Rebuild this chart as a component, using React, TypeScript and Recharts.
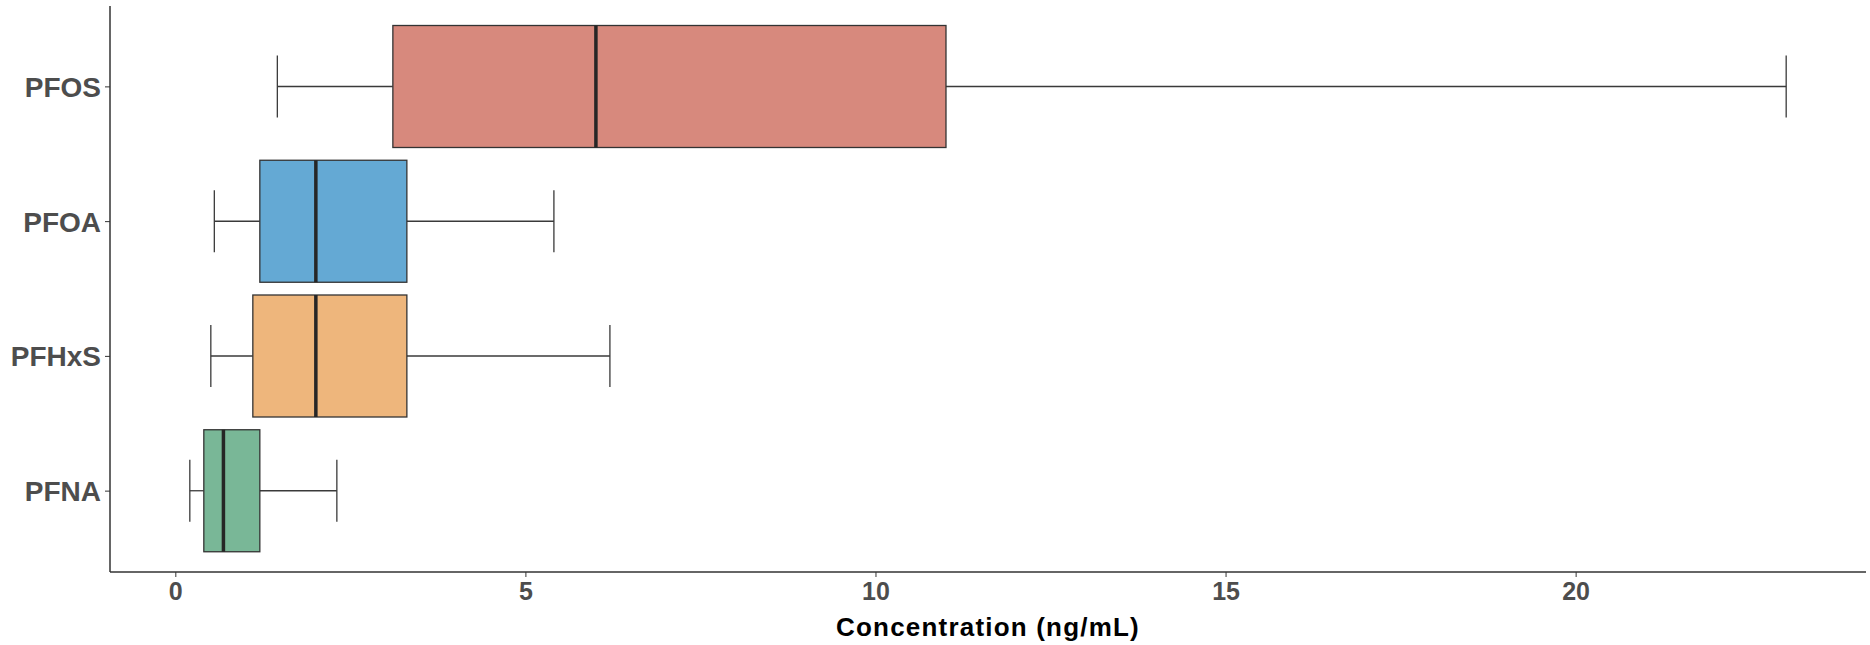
import { ComposedChart, Bar, XAxis, YAxis } from 'recharts';

const categories = ['PFOS', 'PFOA', 'PFHxS', 'PFNA'];
const whiskerLow = [1.45, 0.55, 0.5, 0.2];
const q1 = [3.1, 1.2, 1.1, 0.4];
const median = [6.0, 2.0, 2.0, 0.68];
const q3 = [11.0, 3.3, 3.3, 1.2];
const whiskerHigh = [23.0, 5.4, 6.2, 2.3];
const fills = ['#D7897D', '#64A9D4', '#EEB67C', '#79B797'];
const xTicks = [0, 5, 10, 15, 20];

const data = categories.map((name, i) => ({
  name,
  lo: whiskerLow[i],
  q1: q1[i],
  med: median[i],
  q3: q3[i],
  hi: whiskerHigh[i],
  fill: fills[i],
}));

const FONT = '"Liberation Sans", Arial, sans-serif';

// One box-and-whisker glyph; the bar spans lo..hi, inner stats are placed on the same scale.
function BoxShape(props: any) {
  const { x, y, width, height, payload } = props;
  const { lo, hi } = payload;
  const px = (v: number) => x + ((v - lo) / (hi - lo)) * width;
  const cy = y + height / 2;
  const cap = height * 0.255;
  const bx1 = px(payload.q1);
  const bx2 = px(payload.q3);
  const mx = px(payload.med);
  return (
    <g>
      <line x1={px(lo)} x2={bx1} y1={cy} y2={cy} stroke="#3a3a3a" strokeWidth={1.3} />
      <line x1={bx2} x2={px(hi)} y1={cy} y2={cy} stroke="#3a3a3a" strokeWidth={1.3} />
      <line x1={px(lo)} x2={px(lo)} y1={cy - cap} y2={cy + cap} stroke="#3a3a3a" strokeWidth={1.3} />
      <line x1={px(hi)} x2={px(hi)} y1={cy - cap} y2={cy + cap} stroke="#3a3a3a" strokeWidth={1.3} />
      <rect x={bx1} y={y} width={bx2 - bx1} height={height} fill={payload.fill} stroke="#333" strokeWidth={1.3} />
      <line x1={mx} x2={mx} y1={y} y2={y + height} stroke="#262626" strokeWidth={3.5} />
    </g>
  );
}

export default function App() {
  return (
    <div style={{ position: 'absolute', left: 0, top: 0, background: '#fff' }}>
      <ComposedChart
        width={1870}
        height={645}
        data={data}
        layout="vertical"
        margin={{ top: 6, right: 4, bottom: 0, left: 0 }}
      >
        <XAxis
          type="number"
          domain={[-0.94, 24.14]}
          ticks={xTicks}
          allowDataOverflow
          height={73}
          tickSize={5}
          tickMargin={5}
          axisLine={{ stroke: '#333', strokeWidth: 1.5 }}
          tickLine={{ stroke: '#333' }}
          tick={{ fontSize: 25, fontWeight: 'bold', fill: '#4D4D4D', fontFamily: FONT }}
          label={{
            value: 'Concentration (ng/mL)',
            position: 'insideBottom',
            offset: 9,
            style: { fontSize: 26, fontWeight: 'bold', fill: '#000', fontFamily: FONT, letterSpacing: 1.2 },
          }}
        />
        <YAxis
          type="category"
          dataKey="name"
          width={110}
          padding={{ top: 13.5, bottom: 13.5 }}
          tickSize={5}
          tickMargin={4}
          axisLine={{ stroke: '#333', strokeWidth: 1.5 }}
          tickLine={{ stroke: '#333' }}
          tick={{ fontSize: 28, fontWeight: 'bold', fill: '#4D4D4D', fontFamily: FONT }}
        />
        <Bar
          dataKey={(d: any) => [d.lo, d.hi]}
          barSize={122}
          shape={BoxShape}
          isAnimationActive={false}
        />
      </ComposedChart>
    </div>
  );
}
